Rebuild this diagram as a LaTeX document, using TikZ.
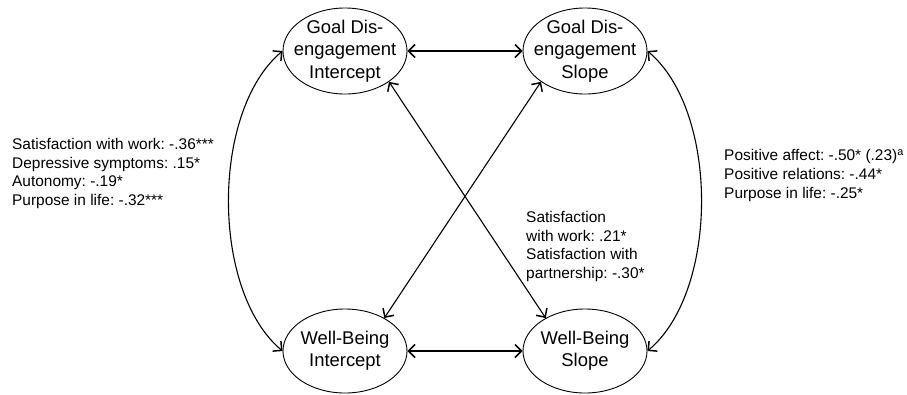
\documentclass[tikz,border=0pt]{standalone}
\usepackage{fontspec}
\setmainfont{Liberation Sans}
\usetikzlibrary{shapes.geometric,arrows.meta}
\frenchspacing
\tikzset{
  latent/.style={draw,ellipse,line width=0.9bp,inner xsep=-12bp,inner ysep=-6bp,
    minimum width=124bp,minimum height=86bp,align=center,
    font=\fontsize{18.5}{22.5}\selectfont},
  corr/.style={line width=1.1bp,{Straight Barb[length=6.5bp,width=13bp,line width=1.5bp]}-{Straight Barb[length=6.5bp,width=13bp,line width=1.5bp]}},
  effects/.style={align=left,anchor=west,inner sep=0pt,font=\fontsize{15.5}{19}\selectfont}
}
\begin{document}
\begin{tikzpicture}[x=1bp,y=1bp]
  \useasboundingbox (0,0) rectangle (907,-394);
  \node[latent] (A) at (345,-51) {Goal Dis-\\engagement\\Intercept};
  \node[latent] (B) at (585,-51) {Goal Dis-\\engagement\\Slope};
  \node[latent, minimum height=84bp] (C) at (345,-351) {Well-Being\\Intercept};
  \node[latent, minimum height=84bp] (D) at (585,-351) {Well-Being\\Slope};
  \draw[corr] (A) -- (B);
  \draw[corr] (C) -- (D);
  \draw[corr] (A.west) to[out=220,in=140,looseness=0.8] (C.west);
  \draw[corr] (B.east) to[out=-40,in=40,looseness=0.8] (D.east);
  \draw[corr] (A.-35) -- (D.140);
  \draw[corr] (B.215) -- (C.40);
  % associations with covariates
  \node[effects] (l) at (12,-173.5) {Satisfaction with work: -.36***\\Depressive symptoms: .15*\\Autonomy: -.19*\\Purpose in life: -.32***};
  \node[effects] (m) at (526,-246.5) {Satisfaction\\with work: .21*\\Satisfaction with\\partnership: -.30*};
  \node[effects] (r) at (724,-175.5) {Positive affect: -.50* (.23)\textsuperscript{a}\\Positive relations: -.44*\\Purpose in life: -.25*};
\end{tikzpicture}
\end{document}
